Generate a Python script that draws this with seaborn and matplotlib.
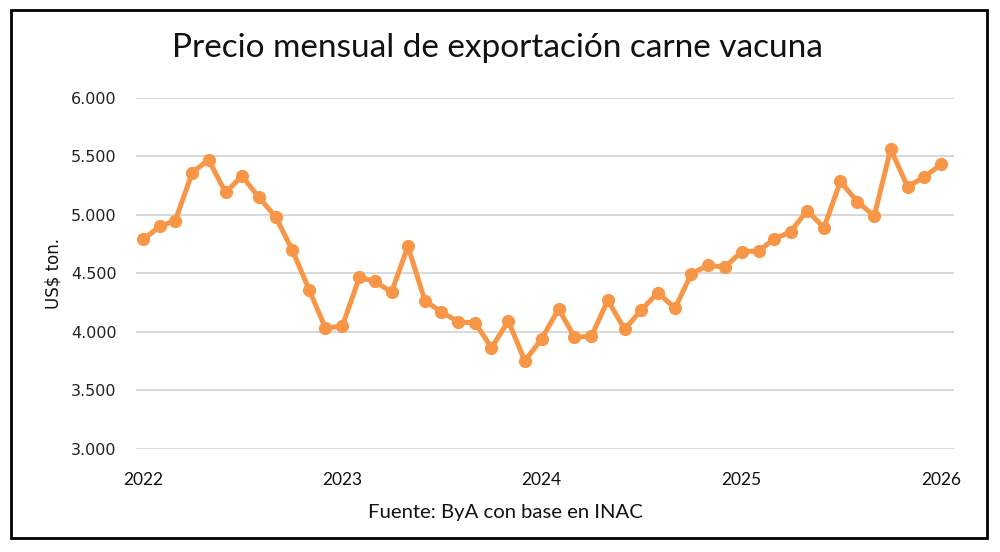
import pandas as pd
import matplotlib.pyplot as plt
import matplotlib.dates as mdates
from matplotlib.patches import Rectangle
from matplotlib.ticker import FuncFormatter
import seaborn as sns

# Monthly beef export price, Jan 2022 - Jan 2026 (US$ / ton)
start_month = '2022-01-01'
prices = [4790, 4900, 4950, 5360, 5470, 5190, 5330, 5150, 4980, 4700, 4360, 4030,
          4050, 4465, 4430, 4340, 4730, 4265, 4170, 4085, 4075, 3865, 4090, 3750,
          3940, 4195, 3955, 3960, 4270, 4020, 4185, 4335, 4200, 4495, 4570, 4550,
          4685, 4690, 4790, 4855, 5035, 4890, 5285, 5110, 4990, 5560, 5240, 5320,
          5430]
year_ticks = [2022, 2023, 2024, 2025, 2026]
y_ticks = [3000, 3500, 4000, 4500, 5000, 5500, 6000]

df = pd.DataFrame({
    'fecha': pd.date_range(start_month, periods=len(prices), freq='MS'),
    'precio': prices,
})

sns.set_style('white')
plt.rcParams['font.family'] = ['DejaVu Sans']

fig = plt.figure(figsize=(10, 5.52), dpi=100)
ax = fig.add_axes([0.136, 0.187, 0.818, 0.636])

sns.lineplot(data=df, x='fecha', y='precio', ax=ax, color='#F79646',
             linewidth=3.6, marker='o', markersize=9.5, markeredgewidth=0)

ax.set_ylim(3000, 6000)
ax.set_yticks(y_ticks)
ax.yaxis.set_major_formatter(FuncFormatter(lambda v, p: f'{int(v):,}'.replace(',', '.')))
ax.set_xlim(pd.Timestamp('2022-01-01') - pd.Timedelta(days=13),
            pd.Timestamp('2026-01-01') + pd.Timedelta(days=24))
ax.set_xticks([pd.Timestamp(f'{y}-01-01') for y in year_ticks])
ax.xaxis.set_major_formatter(mdates.DateFormatter('%Y'))

ax.grid(axis='y', color='#D9D9D9', linewidth=1.5)
ax.grid(axis='x', visible=False)
ax.set_axisbelow(True)
for s in ax.spines.values():
    s.set_visible(False)

ax.tick_params(axis='y', length=0, pad=14, labelsize=11.5, labelcolor='#222222')
ax.tick_params(axis='x', length=0, pad=16.5, labelsize=12.5, labelcolor='#111111')
for lbl in ax.get_xticklabels():
    lbl.set_family('Lato')

ax.set_xlabel('')
ax.set_ylabel('US$ ton.', fontsize=12, color='#111111', labelpad=6)

fig.text(0.497, 0.913, 'Precio mensual de exportación carne vacuna',
         ha='center', va='center', fontsize=24, family='Lato', color='#111111')
fig.text(0.505, 0.072, 'Fuente: ByA con base en INAC',
         ha='center', va='center', fontsize=14.6, family='Lato', color='#111111')

# black frame around the whole chart
fig.patches.append(Rectangle((0.011, 0.026), 0.976, 0.956, transform=fig.transFigure,
                             fill=False, edgecolor='black', linewidth=2))

fig.savefig('out.png', dpi=100, facecolor='white')
